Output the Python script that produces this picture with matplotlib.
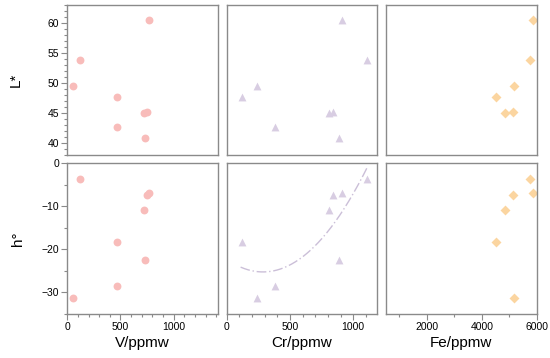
import numpy as np
import matplotlib
matplotlib.use("Agg")
import matplotlib.pyplot as plt
from matplotlib.ticker import MultipleLocator, FixedLocator

plt.rcParams['font.family'] = ['Liberation Sans', 'DejaVu Sans']

# datos (uma entrada por amostra)
V = [51, 120, 470, 466, 768, 749, 717, 726]
Cr = [237, 1106, 118, 384, 908, 837, 808, 887]
L_star = [49.5, 53.9, 47.6, 42.7, 60.5, 45.1, 45.0, 40.8]
h_deg = [-31.3, -3.7, -18.2, -28.5, -6.9, -7.4, -10.9, -22.5]

# Fe so existe para 6 amostras
Fe = [5185, 5767, 4531, 5876, 5138, 4858]
L_fe = [49.5, 53.9, 47.6, 60.5, 45.1, 45.0]
h_fe = [-31.3, -3.7, -18.2, -6.9, -7.4, -10.9]

rosa = '#F8BCBA'
lilas = '#D8CDE2'
laranja = '#FBD5A0'
cinza = '#8a8a8a'

fig = plt.figure(figsize=(5.5, 3.58), dpi=100)

W, H = 550.0, 358.0
colunas = [(67.3, 218.3), (226.7, 377.3), (385.7, 536.7)]
linhas = [(5, 155), (163, 314)]

eixos = {}
for i, (yt, yb) in enumerate(linhas):
    for j, (xl, xr) in enumerate(colunas):
        ax = fig.add_axes([xl / W, 1 - yb / H, (xr - xl) / W, (yb - yt) / H])
        for s in ax.spines.values():
            s.set_color(cinza)
            s.set_linewidth(1.0)
        ax.tick_params(which='both', direction='out', color=cinza, labelsize=7.5,
                       width=0.8, pad=2)
        ax.tick_params(which='major', length=4)
        ax.tick_params(which='minor', length=2.5)
        eixos[(i, j)] = ax

xlims = [(0, 1420), (0, 1190), (500, 6000)]
xmaj = [500, 500, 2000]
xmin = [100, 100, 1000]
nomes = ['V/ppmw', 'Cr/ppmw', 'Fe/ppmw']

for (i, j), ax in eixos.items():
    ax.set_xlim(*xlims[j])
    if i == 0:
        ax.set_ylim(38, 63)
        ax.yaxis.set_major_locator(MultipleLocator(5))
        ax.yaxis.set_minor_locator(MultipleLocator(1))
    else:
        ax.set_ylim(-35, 0)
        ax.yaxis.set_major_locator(MultipleLocator(10))
        ax.yaxis.set_minor_locator(MultipleLocator(5))
    ax.xaxis.set_major_locator(MultipleLocator(xmaj[j]))
    ax.xaxis.set_minor_locator(MultipleLocator(xmin[j]))
    if i == 0:
        ax.tick_params(axis='x', which='both', bottom=False, labelbottom=False)
    else:
        ax.set_xlabel(nomes[j], fontsize=11, labelpad=3)
    if j != 0:
        ax.tick_params(axis='y', which='both', left=False, labelleft=False)

eixos[(1, 2)].xaxis.set_major_locator(FixedLocator([2000, 4000, 6000]))

ms = 32
eixos[(0, 0)].scatter(V, L_star, s=ms, c=rosa, marker='o', linewidths=0)
eixos[(1, 0)].scatter(V, h_deg, s=ms, c=rosa, marker='o', linewidths=0)
eixos[(0, 1)].scatter(Cr, L_star, s=ms, c=lilas, marker='^', linewidths=0)
eixos[(1, 1)].scatter(Cr, h_deg, s=ms, c=lilas, marker='^', linewidths=0)
eixos[(0, 2)].scatter(Fe, L_fe, s=ms * 0.8, c=laranja, marker='D', linewidths=0)
eixos[(1, 2)].scatter(Fe, h_fe, s=ms * 0.8, c=laranja, marker='D', linewidths=0)

# ajuste quadratico h x Cr
coef = np.polyfit(Cr, h_deg, 2)
xs = np.linspace(min(Cr) - 8, max(Cr) + 5, 200)
eixos[(1, 1)].plot(xs, np.polyval(coef, xs), color='#CBBFD8', lw=1.0,
                   linestyle=(0, (7, 2, 1, 2)))

eixos[(0, 0)].set_ylabel('L*', fontsize=11, labelpad=18)
eixos[(1, 0)].set_ylabel('h°', fontsize=11, labelpad=12)

fig.savefig('out.png', dpi=100)
